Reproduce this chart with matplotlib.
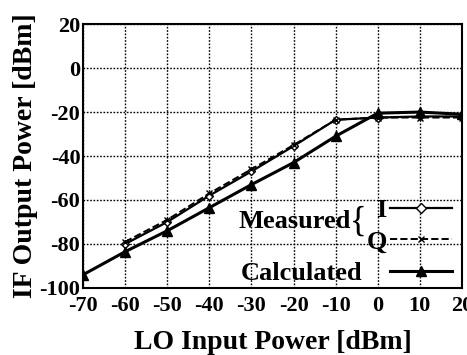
'''
IF output power against LO input power
for the mixer, measured I/Q and calculated
'''

######################################

import numpy as np
import matplotlib.pyplot as plt
from matplotlib.lines import Line2D

######################################

# LO input power sweep (dBm)
loCalc=[-70,-60,-50,-40,-30,-20,-10,0,10,20]
loMeas=[-60,-50,-40,-30,-20,-10,0,10,20]

# IF output power (dBm)
ifCalc=[-94,-83.5,-74,-63.5,-53,-43,-31,-20.5,-20,-21]
ifMeasI=[-80,-70,-58,-47,-35.5,-23.5,-22.5,-22,-22]
ifMeasQ=[-79,-69,-57,-46,-35,-23.5,-22.5,-22.5,-22.5]

# axis ticks
xTicks=[-70,-60,-50,-40,-30,-20,-10,0,10,20]
yTicks=[-100,-80,-60,-40,-20,0,20]

######################################

plt.rcParams['font.family']='Liberation Serif'
plt.rcParams['font.weight']='bold'
plt.rcParams['axes.unicode_minus']=False

fig=plt.figure(figsize=(4.67,3.55),dpi=100)
ax=fig.add_axes([0.178,0.189,0.811,0.743])

# data
ax.plot(loMeas,ifMeasI,'-',color='black',lw=1.6,marker='D',ms=4,mfc='white',mec='black',mew=1.0)
ax.plot(loMeas,ifMeasQ,'--',color='black',lw=1.4,marker='x',ms=5,mew=1.0)
ax.plot(loCalc,ifCalc,'-',color='black',lw=2.2,marker='^',ms=7)

# axes
ax.set_xlim(-70,20)
ax.set_ylim(-100,20)
ax.set_xticks(xTicks)
ax.set_yticks(yTicks)
ax.tick_params(axis='x',length=0,labelsize=16,pad=6)
ax.tick_params(axis='y',length=0,labelsize=16,pad=2)
for lab in ax.get_xticklabels()+ax.get_yticklabels():
  lab.set_fontweight('bold')
ax.grid(True,color='black',linestyle=(0,(1.2,1.2)),linewidth=1.0)
for s in ax.spines.values():
  s.set_linewidth(1.5)

ax.set_xlabel('LO Input Power [dBm]',fontsize=20,fontweight='bold',labelpad=10)
ax.set_ylabel('IF Output Power [dBm]',fontsize=20,fontweight='bold',labelpad=1)

# legends, labels on the left of the keys
legProps={'size':19,'weight':'bold'}
hMeas=[Line2D([],[],color='black',lw=1.6,marker='D',ms=5,mfc='white',mec='black'),
       Line2D([],[],color='black',lw=1.4,ls='--',marker='x',ms=5)]
hCalc=[Line2D([],[],color='black',lw=2.2,marker='^',ms=7)]

legMeas=ax.legend(hMeas,['I','Q'],loc='lower right',bbox_to_anchor=(0.974,0.13),
                  frameon=False,markerfirst=False,prop=legProps,handlelength=2.35,
                  handletextpad=0.12,labelspacing=0.29,borderpad=0,borderaxespad=0)
ax.add_artist(legMeas)
ax.legend(hCalc,['Calculated'],loc='lower right',bbox_to_anchor=(0.974,0.011),
          frameon=False,markerfirst=False,prop=legProps,handlelength=2.35,
          handletextpad=1.05,borderpad=0,borderaxespad=0)

ax.text(0.409,0.25,'Measured',transform=ax.transAxes,fontsize=19,fontweight='bold',va='center',ha='left')
ax.text(0.704,0.25,'{',transform=ax.transAxes,fontsize=25,fontweight='normal',va='center',ha='left')

fig.savefig('out.png',dpi=100)
